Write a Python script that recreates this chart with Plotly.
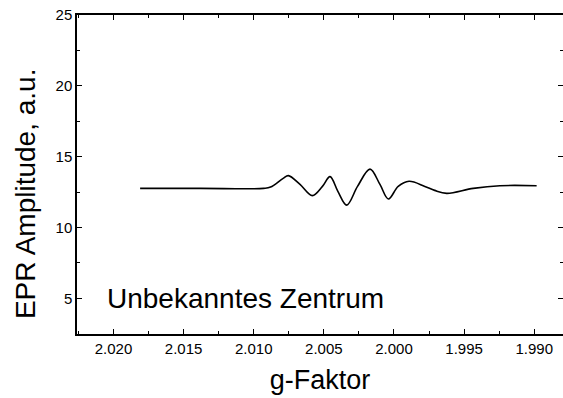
import plotly.graph_objects as go

# g-factor (x) and EPR amplitude (y)
g_factor = [2.0181, 2.0138, 2.0093, 2.0088, 2.0079, 2.00753, 2.0067, 2.00582,
            2.0051, 2.00456, 2.0040, 2.00337, 2.0026, 2.00171, 2.0010, 2.00040,
            1.9997, 1.99893, 1.9978, 1.9971, 1.99624, 1.99435, 1.99245, 1.98983]
amplitude = [12.76, 12.76, 12.76, 12.85, 13.47, 13.66, 13.04, 12.25,
             12.90, 13.59, 12.55, 11.58, 12.90, 14.12, 13.04, 12.01,
             12.90, 13.26, 12.90, 12.62, 12.41, 12.76, 12.95, 12.95]

x_ticks = [2.020, 2.015, 2.010, 2.005, 2.000, 1.995, 1.990]
x_tick_labels = ["2.020", "2.015", "2.010", "2.005", "2.000", "1.995", "1.990"]
y_ticks = [5, 10, 15, 20, 25]
y_tick_labels = ["5", "10", "15", "20", "25"]

label_text = "Unbekanntes Zentrum"
x_title = "g-Faktor"
y_title = "EPR Amplitude, a.u."

font_family = "Liberation Sans, Arial, sans-serif"

fig = go.Figure()
fig.add_trace(go.Scatter(
    x=g_factor, y=amplitude, mode="lines",
    line=dict(color="black", width=1.6, shape="spline", smoothing=1.0),
    showlegend=False, hoverinfo="skip",
))

fig.add_annotation(
    x=2.0206, y=5.0, xref="x", yref="y", text=label_text,
    showarrow=False, xanchor="left", yanchor="middle",
    font=dict(family=font_family, size=28, color="black"),
)

# y-axis title as rotated text, placed like the original
fig.add_annotation(
    x=-0.106, y=0.44, xref="paper", yref="paper", text=y_title,
    showarrow=False, textangle=-90, xanchor="center", yanchor="middle",
    font=dict(family=font_family, size=28, color="black"),
)

axis_common = dict(
    showgrid=False, zeroline=False, showline=True, linecolor="black",
    linewidth=1.5, mirror="ticks", ticks="inside", ticklen=5,
    tickwidth=1.2, tickcolor="black", automargin=False,
    tickfont=dict(family=font_family, size=15, color="black"),
)

fig.update_layout(
    width=563, height=398,
    margin=dict(l=77, r=0, t=15, b=64, autoexpand=False),
    paper_bgcolor="white", plot_bgcolor="white",
    xaxis=dict(
        range=[2.0226, 1.98795], tickvals=x_ticks, ticktext=x_tick_labels,
        minor=dict(ticks="inside", ticklen=3, dtick=0.0025, tick0=2.0,
                   tickcolor="black", showgrid=False),
        title=dict(text=x_title, font=dict(family=font_family, size=27, color="black"),
                   standoff=14),
        **axis_common,
    ),
    yaxis=dict(
        range=[2.48, 25], tickvals=y_ticks, ticktext=y_tick_labels,
        minor=dict(ticks="inside", ticklen=3, dtick=2.5, tick0=0,
                   tickcolor="black", showgrid=False),
        **axis_common,
    ),
)

fig.write_html("out.html")
